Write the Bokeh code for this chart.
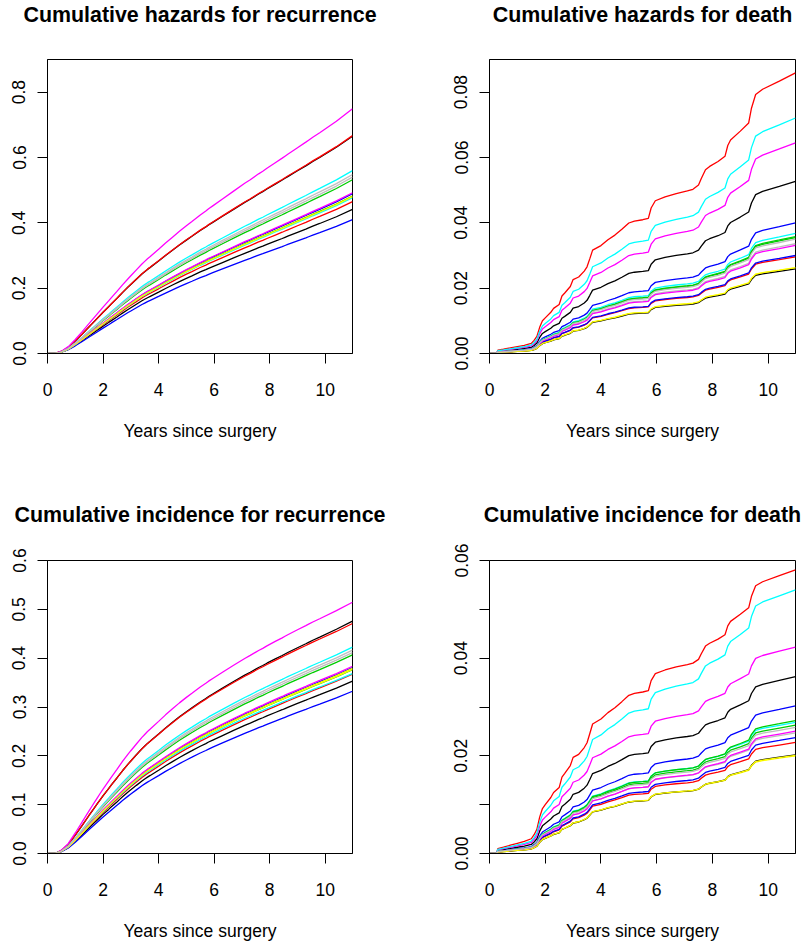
import numpy as np
from bokeh.plotting import figure
from bokeh.layouts import gridplot
from bokeh.models import Range1d, FixedTicker, Title
from bokeh.embed import file_html
from bokeh.resources import INLINE

# Time grid (years since surgery)
TIME = [0, 0.25, 0.3, 0.5, 0.75, 1.0, 1.25, 1.5, 1.6, 1.7, 1.8, 1.9, 2.0, 2.2, 2.3,
        2.5, 2.6, 2.7, 2.9, 3.0, 3.2, 3.4, 3.5, 3.6, 3.7, 4.0, 4.25, 4.5, 4.75, 5.0,
        5.2, 5.5, 5.7, 5.8, 5.95, 6.3, 6.7, 7.1, 7.3, 7.5, 7.6, 7.75, 7.9, 8.2, 8.45,
        8.55, 8.65, 9.0, 9.3, 9.4, 9.55, 9.8, 10.4, 10.98]

# Reference cumulative hazard of recurrence (top magenta curve)
BASE_REC = [0, 0, 0.001, 0.007, 0.021, 0.043, 0.067, 0.092, 0.102, 0.112, 0.122, 0.132,
            0.142, 0.161, 0.171, 0.190, 0.200, 0.210, 0.229, 0.238, 0.256, 0.274, 0.282,
            0.290, 0.297, 0.319, 0.338, 0.356, 0.374, 0.391, 0.404, 0.424, 0.436, 0.443,
            0.452, 0.473, 0.497, 0.521, 0.532, 0.544, 0.550, 0.558, 0.567, 0.584, 0.598,
            0.604, 0.610, 0.630, 0.647, 0.653, 0.662, 0.676, 0.711, 0.749]

# Reference cumulative hazard of death (top red curve)
BASE_DEATH = [0, 0, 0.0010, 0.0013, 0.0017, 0.0021, 0.0025, 0.0031, 0.0040, 0.0052,
              0.0080, 0.0100, 0.0109, 0.0126, 0.0138, 0.0150, 0.0176, 0.0185, 0.0205,
              0.0226, 0.0234, 0.0252, 0.0265, 0.0290, 0.0316, 0.0330, 0.0348, 0.0362,
              0.0380, 0.0399, 0.0405, 0.0409, 0.0413, 0.0445, 0.0467, 0.0479, 0.0489,
              0.0497, 0.0502, 0.0515, 0.0535, 0.0562, 0.0572, 0.0587, 0.0603, 0.0636,
              0.0653, 0.0680, 0.0705, 0.0750, 0.0792, 0.0808, 0.0833, 0.0858]

# 16 patient profiles (R palette 1:8 repeated)
COLORS = ["black", "red", "#00CD00", "blue", "cyan", "magenta", "yellow", "#BEBEBE",
          "black", "red", "#00CD00", "blue", "cyan", "magenta", "yellow", "#BEBEBE"]
REC_END = [0.665, 0.667, 0.532, 0.489, 0.560, 0.749, 0.483, 0.548,
           0.441, 0.465, 0.481, 0.410, 0.477, 0.492, 0.480, 0.540]
DEATH_END = [0.0527, 0.0859, 0.0355, 0.0400, 0.0368, 0.0645, 0.0262, 0.0336,
             0.0259, 0.0296, 0.0358, 0.0300, 0.0721, 0.0331, 0.0263, 0.0350]

t = np.array(TIME)
br = np.array(BASE_REC)
bd = np.array(BASE_DEATH)
haz_rec = [br * e / br[-1] for e in REC_END]
haz_death = [bd * e / bd[-1] for e in DEATH_END]


def cif(hr, hd):
    dr = np.diff(hr)
    dd = np.diff(hd)
    tot = dr + dd
    S = np.concatenate([[1.0], np.exp(-np.cumsum(tot))])[:-1]
    safe = np.where(tot > 0, tot, 1.0)
    frac = np.where(tot > 0, (1 - np.exp(-tot)) / safe, 1.0)
    inc_r = np.concatenate([[0.0], np.cumsum(S * dr * frac)])
    inc_d = np.concatenate([[0.0], np.cumsum(S * dd * frac)])
    return inc_r, inc_d


inc_rec, inc_death = [], []
for hr, hd in zip(haz_rec, haz_death):
    a, b = cif(hr, hd)
    inc_rec.append(a)
    inc_death.append(b)

FONT = "Liberation Sans"


def make(title, series, ymax, yticks, ylabels, height, left, right, top, bottom, gap):
    p = figure(width=402, height=height, x_range=Range1d(0, 10.98), y_range=Range1d(0, ymax),
               output_backend="svg", toolbar_location=None, title=None,
               min_border_left=left, min_border_right=right,
               min_border_top=top, min_border_bottom=bottom)
    # spacer (closest to the frame), then the real title above it
    p.add_layout(Title(text=" ", text_font_size="7px", text_color="white",
                       standoff=gap), "above")
    p.add_layout(Title(text=title, text_font=FONT, text_font_size="21.4px",
                       text_font_style="bold", text_color="black", align="center",
                       vertical_align="top", standoff=2), "above")
    p.background_fill_color = "white"
    p.border_fill_color = "white"
    p.outline_line_color = "black"
    p.outline_line_width = 1
    p.grid.visible = False
    for ax in (p.xaxis[0], p.yaxis[0]):
        ax.major_tick_out = 10
        ax.major_tick_in = 0
        ax.minor_tick_out = 0
        ax.minor_tick_in = 0
        ax.axis_line_color = "black"
        ax.major_tick_line_color = "black"
        ax.major_label_text_font = FONT
        ax.major_label_text_font_size = "17.5px"
        ax.major_label_text_color = "black"
    p.xaxis.ticker = FixedTicker(ticks=[0, 2, 4, 6, 8, 10])
    p.xaxis.major_label_standoff = 19
    p.xaxis.axis_label = "Years since surgery"
    p.xaxis.axis_label_text_font = FONT
    p.xaxis.axis_label_text_font_size = "17.5px"
    p.xaxis.axis_label_text_font_style = "normal"
    p.xaxis.axis_label_text_color = "black"
    p.xaxis.axis_label_standoff = 22
    p.yaxis.ticker = FixedTicker(ticks=yticks)
    p.yaxis.major_label_overrides = {k: v for k, v in zip(yticks, ylabels)}
    p.yaxis.major_label_orientation = "vertical"
    p.yaxis.major_label_standoff = 12
    for ys, c in zip(series, COLORS):
        p.line(t, ys, line_color=c, line_width=1.3)
    return p


p1 = make("Cumulative hazards for recurrence", haz_rec, 0.9,
          [0, 0.2, 0.4, 0.6, 0.8], ["0.0", "0.2", "0.4", "0.6", "0.8"],
          500, 47, 50, 59, 147, 21)
p2 = make("Cumulative hazards for death", haz_death, 0.09,
          [0, 0.02, 0.04, 0.06, 0.08], ["0.00", "0.02", "0.04", "0.06", "0.08"],
          500, 87, 9, 59, 147, 21)
p3 = make("Cumulative incidence for recurrence", inc_rec, 0.6,
          [0, 0.1, 0.2, 0.3, 0.4, 0.5, 0.6], ["0.0", "0.1", "0.2", "0.3", "0.4", "0.5", "0.6"],
          447, 47, 50, 60, 94, 22)
p4 = make("Cumulative incidence for death", inc_death, 0.06,
          [0, 0.01, 0.02, 0.03, 0.04, 0.05, 0.06], ["0.00", "", "0.02", "", "0.04", "", "0.06"],
          447, 87, 9, 60, 94, 22)

grid = gridplot([[p1, p2], [p3, p4]], toolbar_location=None)
open("out.html", "w").write(file_html(grid, INLINE))
